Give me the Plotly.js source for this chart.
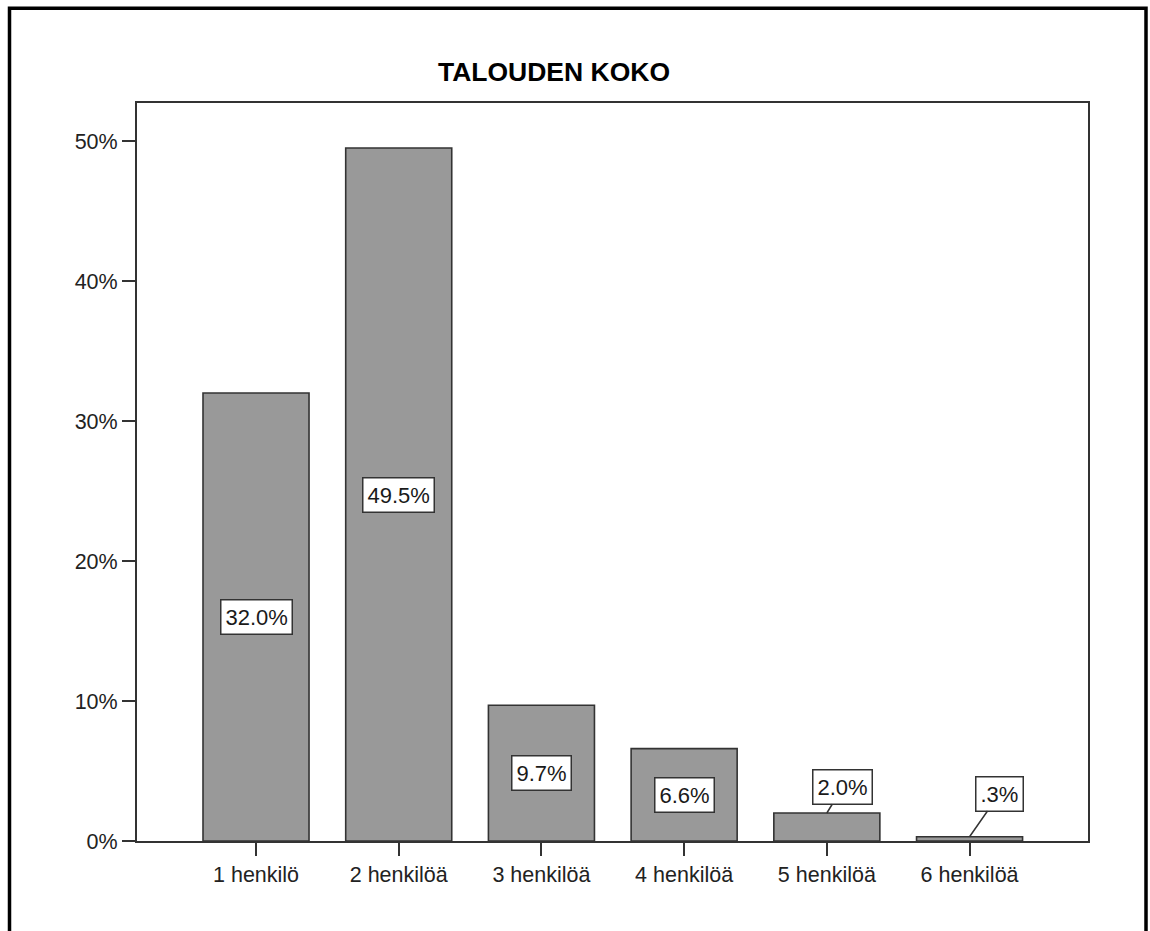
<!DOCTYPE html>
<html>
<head>
<meta charset="utf-8">
<script src="https://cdn.plot.ly/plotly-3.0.1.min.js"></script>
<style>html,body{margin:0;padding:0;background:#fff;}#chart{width:1150px;height:931px;}</style>
</head>
<body>
<div id="chart"></div>
<script>
const categories = ["1 henkilö", "2 henkilöä", "3 henkilöä", "4 henkilöä", "5 henkilöä", "6 henkilöä"];
const values = [32.0, 49.5, 9.7, 6.6, 2.0, 0.3];
const labels = ["32.0%", "49.5%", "9.7%", "6.6%", "2.0%", ".3%"];
const yTicks = [0, 10, 20, 30, 40, 50];
const yTickText = ["0%", "10%", "20%", "30%", "40%", "50%"];
const chartTitle = "TALOUDEN KOKO";

const W = 1150, H = 931;
const L = 137, R = 1088, T = 103, B = 841;
const pw = R - L, ph = B - T;
const px = v => (v - L) / pw;
const py = v => (B - v) / ph;

const FONT = "Liberation Sans, Arial, sans-serif";

const trace = {
  type: "bar",
  x: categories.map((c, i) => i),
  y: values,
  width: 0.743,
  marker: { color: "#999999", line: { color: "#333333", width: 1.6 } },
  hoverinfo: "skip"
};

const annotations = values.map((v, i) => {
  const small = v < 5;
  const a = {
    x: i, xref: "x",
    text: labels[i],
    font: { family: FONT, size: 22, color: "#1a1a1a" },
    bgcolor: "#ffffff",
    bordercolor: "#333333",
    borderwidth: 1.5,
    borderpad: 4
  };
  if (!small) {
    a.y = v / 2; a.yref = "y"; a.showarrow = false;
  } else {
    a.y = v; a.yref = "y"; a.showarrow = true;
    a.arrowhead = 0; a.arrowwidth = 1.5; a.arrowcolor = "#333333";
    a.ax = v > 1 ? 16 : 30; a.ay = v > 1 ? -26 : -43;
  }
  return a;
});

const layout = {
  width: W, height: H,
  margin: { l: L, r: W - R, t: T, b: H - B, pad: 0 },
  paper_bgcolor: "#ffffff",
  plot_bgcolor: "#ffffff",
  showlegend: false,
  title: {
    text: chartTitle,
    font: { family: FONT, size: 26.5, color: "#000000", weight: "bold" },
    x: px(554), xref: "paper", xanchor: "center",
    y: 1 - 72 / H, yref: "container", yanchor: "middle"
  },
  xaxis: {
    type: "linear",
    range: [-0.834, 5.83],
    tickvals: categories.map((c, i) => i),
    ticktext: categories,
    ticks: "outside", ticklen: 13, tickwidth: 2, tickcolor: "#333333",
    showline: true, linecolor: "#333333", linewidth: 2, mirror: true,
    showgrid: false, zeroline: false,
    tickfont: { family: FONT, size: 21.5, color: "#222222" },
    fixedrange: true
  },
  yaxis: {
    range: [0, (B - T) / 14],
    tickvals: yTicks,
    ticktext: yTickText,
    ticks: "outside", ticklen: 13, tickwidth: 2, tickcolor: "#333333",
    showline: true, linecolor: "#333333", linewidth: 2, mirror: true,
    showgrid: false, zeroline: false,
    tickfont: { family: FONT, size: 21.5, color: "#222222" },
    fixedrange: true
  },
  annotations: annotations,
  shapes: [{
    type: "rect", xref: "paper", yref: "paper", layer: "above",
    x0: px(9.5), x1: px(1146), y0: py(960), y1: py(8.3),
    line: { color: "#000000", width: 3.5 }, fillcolor: "rgba(0,0,0,0)"
  }]
};

Plotly.newPlot("chart", [trace], layout, { displayModeBar: false, staticPlot: true });
</script>
</body>
</html>
